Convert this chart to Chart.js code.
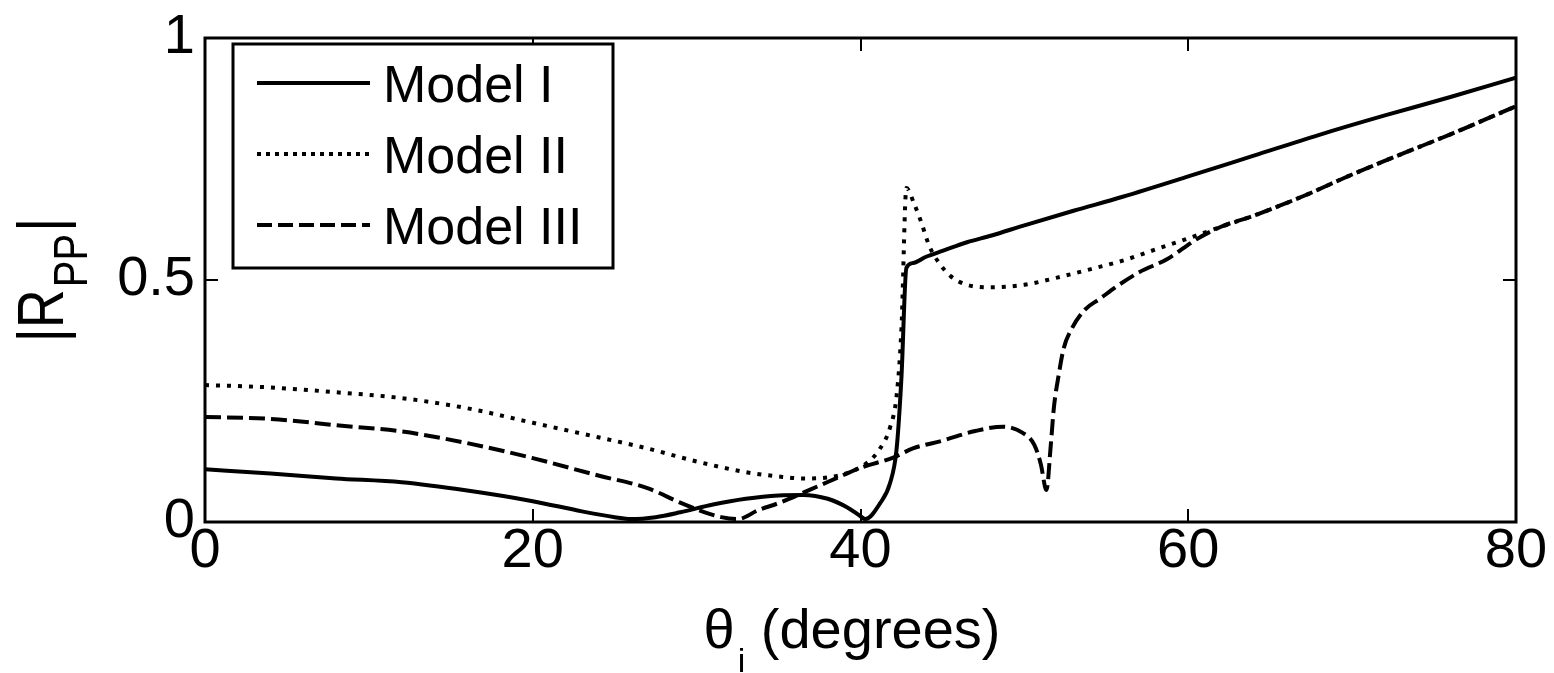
<!DOCTYPE html>
<html>
<head>
<meta charset="utf-8">
<script src="https://cdn.jsdelivr.net/npm/chart.js@4.4.1/dist/chart.umd.min.js"></script>
<style>
  html, body { margin: 0; padding: 0; background: #fff; }
  #wrap { width: 1554px; height: 673px; position: relative; }
</style>
</head>
<body>
<div id="wrap"><canvas id="rppChart"></canvas></div>
<script>
// |Rpp| vs incidence angle, three models
const FONT = '"Liberation Sans", Arial, Helvetica, sans-serif';

const seriesNames = ['Model I', 'Model II', 'Model III'];

const thetaModel1 = [0, 4, 8, 12, 16, 20, 23, 25, 26, 27.5, 29, 31, 33, 35, 36.5, 38, 39.2, 40, 40.3, 41.2, 41.8, 42.2, 42.5, 42.8, 43.2, 44, 45, 46.5, 48, 50, 53, 56, 60, 64, 68, 72, 76, 80];
const rppModel1   = [0.109, 0.100, 0.090, 0.082, 0.065, 0.043, 0.022, 0.010, 0.006, 0.010, 0.020, 0.036, 0.048, 0.055, 0.056, 0.048, 0.030, 0.012, 0.006, 0.039, 0.080, 0.150, 0.300, 0.525, 0.535, 0.548, 0.560, 0.578, 0.592, 0.613, 0.643, 0.672, 0.714, 0.757, 0.800, 0.840, 0.878, 0.918];

const thetaModel2 = [0, 4, 8, 12, 16, 20, 24, 27, 30, 33, 35, 36.5, 38, 39.5, 40.5, 41.2, 41.8, 42.2, 42.5, 42.8, 43.3, 43.7, 44.2, 44.8, 45.5, 46.5, 48, 50, 52, 54, 56, 58, 60, 62, 64, 67, 70, 73, 76, 80];
const rppModel2   = [0.283, 0.278, 0.268, 0.256, 0.235, 0.205, 0.175, 0.152, 0.125, 0.103, 0.094, 0.090, 0.092, 0.105, 0.125, 0.152, 0.195, 0.260, 0.400, 0.690, 0.655, 0.620, 0.570, 0.535, 0.508, 0.490, 0.485, 0.490, 0.505, 0.522, 0.540, 0.563, 0.586, 0.610, 0.633, 0.673, 0.718, 0.760, 0.801, 0.859];

const thetaModel3 = [0, 4, 8, 12, 16, 20, 24, 27, 29, 30.5, 31.5, 32.5, 33.8, 35, 37, 38.5, 40, 42, 43.2, 45, 47, 48.7, 49.9, 50.6, 51.0, 51.35, 51.6, 51.8, 52.1, 52.4, 52.9, 53.7, 54.6, 55.6, 57, 58.7, 60.5, 62, 64, 67, 70, 73, 76, 80];
const rppModel3   = [0.217, 0.213, 0.200, 0.187, 0.163, 0.132, 0.096, 0.070, 0.040, 0.020, 0.010, 0.006, 0.025, 0.039, 0.068, 0.090, 0.112, 0.133, 0.152, 0.168, 0.188, 0.197, 0.184, 0.160, 0.120, 0.066, 0.154, 0.236, 0.305, 0.359, 0.400, 0.439, 0.461, 0.486, 0.516, 0.543, 0.584, 0.610, 0.633, 0.673, 0.718, 0.760, 0.801, 0.859];

const xTicks = [0, 20, 40, 60, 80];
const yTicks = [0, 0.5, 1];
const yTickLabels = ['0', '0.5', '1'];

const toPoints = (xs, ys) => xs.map((x, i) => ({ x: x, y: ys[i] }));

// box + inward tick marks (matlab style)
const frameTicks = {
    id: 'frameTicks',
    afterDatasetsDraw(chart) {
        const { ctx, chartArea: a, scales } = chart;
        const len = 13;
        ctx.save();
        ctx.strokeStyle = '#000';
        ctx.lineWidth = 2;
        ctx.beginPath();
        xTicks.forEach(v => {
            const px = Math.round(scales.x.getPixelForValue(v));
            ctx.moveTo(px, a.bottom); ctx.lineTo(px, a.bottom - len);
            ctx.moveTo(px, a.top);    ctx.lineTo(px, a.top + len);
        });
        yTicks.forEach(v => {
            const py = Math.round(scales.y.getPixelForValue(v));
            ctx.moveTo(a.left, py);  ctx.lineTo(a.left + len, py);
            ctx.moveTo(a.right, py); ctx.lineTo(a.right - len, py);
        });
        ctx.stroke();
        ctx.lineWidth = 3;
        ctx.strokeRect(a.left, a.top, a.right - a.left, a.bottom - a.top);
        ctx.restore();
    }
};

// legend box in the upper-left corner, built from the datasets
const boxLegend = {
    id: 'boxLegend',
    afterDraw(chart) {
        const ctx = chart.ctx;
        const bx = 233, by = 44, bw = 380, bh = 224;
        const rowY = [83, 154, 225];
        ctx.save();
        ctx.fillStyle = '#fff';
        ctx.fillRect(bx, by, bw, bh);
        ctx.lineWidth = 3;
        ctx.strokeStyle = '#000';
        ctx.strokeRect(bx, by, bw, bh);
        chart.data.datasets.forEach((ds, i) => {
            const y = rowY[i];
            ctx.beginPath();
            ctx.setLineDash(ds.legendDash || ds.borderDash || []);
            ctx.lineWidth = ds.borderWidth;
            ctx.strokeStyle = ds.borderColor;
            ctx.moveTo(257, y);
            ctx.lineTo(370, y);
            ctx.stroke();
            ctx.setLineDash([]);
            ctx.fillStyle = '#000';
            ctx.font = '52px ' + FONT;
            ctx.textBaseline = 'alphabetic';
            ctx.textAlign = 'left';
            ctx.fillText(ds.label, 383, y + 19);
        });
        ctx.restore();
    }
};

// axis titles with subscripts
const axisTitles = {
    id: 'axisTitles',
    afterDraw(chart) {
        const ctx = chart.ctx;
        ctx.save();
        ctx.fillStyle = '#000';
        ctx.textBaseline = 'alphabetic';
        ctx.textAlign = 'left';

        // x: θi (degrees)
        const big = '56px ' + FONT, small = '34px ' + FONT;
        ctx.font = big;
        const wTheta = ctx.measureText('\u03b8').width;
        const wRest = ctx.measureText(' (degrees)').width;
        ctx.font = small;
        const wSub = ctx.measureText('i').width;
        const total = wTheta + 3 + wSub + wRest;
        let x = 852 - total / 2;
        ctx.font = big;
        ctx.fillText('\u03b8', x, 648);
        x += wTheta + 3;
        ctx.font = small;
        ctx.fillText('i', x, 672);
        x += wSub;
        ctx.font = big;
        ctx.fillText(' (degrees)', x, 648);

        // y: |Rpp| rotated
        ctx.save();
        ctx.translate(63, 280);
        ctx.rotate(-Math.PI / 2);
        ctx.scale(1, 1.2);
        const main = '54px ' + FONT, sub = '40px ' + FONT;
        ctx.font = main;
        const wBar = ctx.measureText('|').width;
        const wR = ctx.measureText('R').width;
        ctx.font = sub;
        const wPP = ctx.measureText('PP').width;
        let u = -(2 * wBar + wR + wPP + 4) / 2;
        ctx.font = main;
        ctx.fillText('|', u, 0); u += wBar;
        ctx.fillText('R', u, 0); u += wR + 2;
        ctx.font = sub;
        ctx.fillText('PP', u, 20); u += wPP + 2;
        ctx.font = main;
        ctx.fillText('|', u, 0);
        ctx.restore();

        ctx.restore();
    }
};

const ctx = document.getElementById('rppChart').getContext('2d');
new Chart(ctx, {
    type: 'line',
    data: {
        datasets: [
            {
                label: seriesNames[0],
                data: toPoints(thetaModel1, rppModel1),
                borderColor: '#000',
                borderWidth: 4,
                borderDash: []
            },
            {
                label: seriesNames[1],
                data: toPoints(thetaModel2, rppModel2),
                borderColor: '#000',
                borderWidth: 4,
                borderDash: [4, 7],
                legendDash: [4, 5]
            },
            {
                label: seriesNames[2],
                data: toPoints(thetaModel3, rppModel3),
                borderColor: '#000',
                borderWidth: 4,
                borderDash: [16, 6],
                legendDash: [15, 6]
            }
        ]
    },
    options: {
        responsive: true,
        maintainAspectRatio: false,
        animation: false,
        parsing: false,
        elements: {
            point: { radius: 0, hoverRadius: 0 },
            line: { cubicInterpolationMode: 'monotone', fill: false, borderCapStyle: 'butt' }
        },
        layout: { padding: { left: 0, right: 38, top: 34, bottom: 0 } },
        plugins: {
            legend: { display: false },
            tooltip: { enabled: false },
            title: { display: false }
        },
        scales: {
            x: {
                type: 'linear',
                min: 0, max: 80,
                afterFit(s) { s.height = 151; },
                afterBuildTicks(s) { s.ticks = xTicks.map(v => ({ value: v })); },
                grid: { display: false, drawTicks: false },
                border: { display: false },
                ticks: { color: '#000', padding: 2, maxRotation: 0, font: { family: FONT, size: 56, lineHeight: 1 } }
            },
            y: {
                type: 'linear',
                min: 0, max: 1,
                afterFit(s) { s.width = 205; },
                afterBuildTicks(s) { s.ticks = yTicks.map(v => ({ value: v })); },
                grid: { display: false, drawTicks: false },
                border: { display: false },
                ticks: {
                    color: '#000', padding: 10,
                    font: { family: FONT, size: 56, lineHeight: 1 },
                    callback: (v) => yTickLabels[yTicks.indexOf(v)]
                }
            }
        }
    },
    plugins: [frameTicks, boxLegend, axisTitles]
});
</script>
</body>
</html>
